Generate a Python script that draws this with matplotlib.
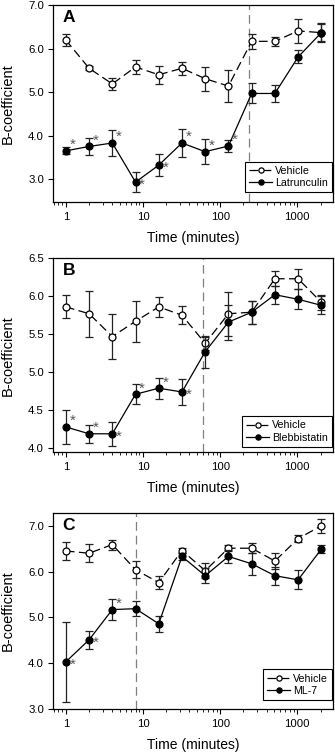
import matplotlib
matplotlib.use("Agg")
import matplotlib.pyplot as plt
from matplotlib.ticker import LogLocator, NullFormatter, FixedLocator, FormatStrFormatter

plt.rcParams['font.family'] = ['Liberation Sans', 'DejaVu Sans']

# time points (minutes)
TIMES = [1, 2, 4, 8, 16, 32, 64, 128, 256, 512, 1024, 2048]

# panel A - latrunculin
A_VEH = [6.20, 5.55, 5.19, 5.58, 5.40, 5.55, 5.31, 5.14, 6.17, 6.17, 6.41, 6.37]
A_VEH_ERR = [0.13, 0.05, 0.13, 0.17, 0.21, 0.15, 0.28, 0.36, 0.17, 0.11, 0.28, 0.20]
A_DRUG = [3.65, 3.75, 3.83, 2.93, 3.32, 3.83, 3.63, 3.76, 4.97, 4.97, 5.81, 6.37]
A_DRUG_ERR = [0.08, 0.19, 0.29, 0.23, 0.26, 0.33, 0.29, 0.14, 0.23, 0.19, 0.15, 0.22]
A_SIG = [1, 1, 1, 1, 1, 1, 1, 1, 0, 0, 0, 0]

# panel B - blebbistatin
B_VEH = [5.86, 5.77, 5.47, 5.67, 5.86, 5.75, 5.38, 5.77, 5.79, 6.23, 6.23, 5.92]
B_VEH_ERR = [0.15, 0.30, 0.30, 0.27, 0.13, 0.12, 0.09, 0.29, 0.15, 0.10, 0.13, 0.10]
B_DRUG = [4.28, 4.19, 4.19, 4.71, 4.79, 4.74, 5.27, 5.66, 5.79, 6.02, 5.96, 5.88]
B_DRUG_ERR = [0.22, 0.12, 0.16, 0.13, 0.14, 0.17, 0.21, 0.23, 0.15, 0.12, 0.13, 0.12]
B_SIG = [1, 1, 1, 1, 1, 1, 0, 0, 0, 0, 0, 0]

# panel C - ML-7
C_VEH = [6.45, 6.40, 6.59, 6.04, 5.76, 6.46, 6.02, 6.51, 6.51, 6.23, 6.72, 7.00]
C_VEH_ERR = [0.20, 0.20, 0.11, 0.18, 0.15, 0.05, 0.16, 0.07, 0.11, 0.17, 0.08, 0.15]
C_DRUG = [4.03, 4.51, 5.17, 5.19, 4.86, 6.33, 5.91, 6.33, 6.17, 5.91, 5.82, 6.49]
C_DRUG_ERR = [0.87, 0.20, 0.23, 0.17, 0.17, 0.08, 0.17, 0.15, 0.24, 0.20, 0.21, 0.09]
C_SIG = [1, 1, 1, 0, 0, 0, 0, 0, 0, 0, 0, 0]

PANELS = [
    dict(letter='A', drug='Latrunculin', veh=A_VEH, veh_err=A_VEH_ERR,
         drug_y=A_DRUG, drug_err=A_DRUG_ERR, sig=A_SIG, wash=240,
         ylim=(2.47, 7.0), yticks=[3.0, 4.0, 5.0, 6.0, 7.0],
         below={3, 4}, leg_y=0.05, rect=[0.158, 0.732, 0.836, 0.261]),
    dict(letter='B', drug='Blebbistatin', veh=B_VEH, veh_err=B_VEH_ERR,
         drug_y=B_DRUG, drug_err=B_DRUG_ERR, sig=B_SIG, wash=60,
         ylim=(3.95, 6.5), yticks=[4.0, 4.5, 5.0, 5.5, 6.0, 6.5],
         below={2, 5}, leg_y=0.027, rect=[0.158, 0.4005, 0.836, 0.257]),
    dict(letter='C', drug='ML-7', veh=C_VEH, veh_err=C_VEH_ERR,
         drug_y=C_DRUG, drug_err=C_DRUG_ERR, sig=C_SIG, wash=8,
         ylim=(3.0, 7.28), yticks=[3.0, 4.0, 5.0, 6.0, 7.0],
         below={0, 1}, leg_y=0.045, rect=[0.158, 0.0597, 0.836, 0.26]),
]

ERR_KW = dict(fmt='none', ecolor='#222222', elinewidth=0.9, capsize=2.8, capthick=0.9)

fig = plt.figure(figsize=(3.35, 7.54), dpi=100)

for p in PANELS:
    ax = fig.add_axes(p['rect'])
    ax.set_xscale('log')

    ax.axvline(p['wash'], color='#808080', lw=0.9, dashes=(7, 4), zorder=1)

    ax.errorbar(TIMES, p['veh'], yerr=p['veh_err'], zorder=2, **ERR_KW)
    ax.plot(TIMES, p['veh'], color='black', lw=0.9, dashes=(7, 3.5),
            marker='o', ms=5.0, mfc='white', mec='black', mew=0.9,
            zorder=3, label='Vehicle')
    ax.errorbar(TIMES, p['drug_y'], yerr=p['drug_err'], zorder=4, **ERR_KW)
    ax.plot(TIMES, p['drug_y'], color='black', lw=0.9, ls='-',
            marker='o', ms=5.0, mfc='black', mec='black', mew=0.9,
            zorder=5, label=p['drug'])

    # significance markers beside the treated points
    for i, (t, y, s) in enumerate(zip(TIMES, p['drug_y'], p['sig'])):
        if s:
            dy = -4.8 if i in p['below'] else 1.3
            ax.annotate('*', (t, y), xytext=(4.8, dy), textcoords='offset points',
                        fontsize=11, color='#555555', ha='center', va='baseline',
                        zorder=6)

    ax.set_xlim(0.68, 2900)
    ax.set_ylim(*p['ylim'])
    ax.xaxis.set_major_locator(FixedLocator([1, 10, 100, 1000]))
    ax.xaxis.set_major_formatter(FormatStrFormatter('%g'))
    ax.xaxis.set_minor_locator(LogLocator(base=10, subs=range(2, 10), numticks=20))
    ax.xaxis.set_minor_formatter(NullFormatter())
    ax.yaxis.set_major_locator(FixedLocator(p['yticks']))
    ax.yaxis.set_major_formatter(FormatStrFormatter('%.1f'))

    ax.tick_params(axis='both', which='major', direction='out', length=3.5,
                   width=0.8, labelsize=8.2)
    ax.tick_params(axis='x', which='major', pad=4)
    ax.tick_params(axis='y', which='major', pad=3)
    ax.tick_params(axis='x', which='minor', direction='out', length=2, width=0.6)
    for sp in ax.spines.values():
        sp.set_linewidth(0.9)

    ax.set_xlabel('Time (minutes)', fontsize=10, labelpad=6)
    ax.set_ylabel('B-coefficient', fontsize=10.5, labelpad=9.5)

    ax.text(0.035, 0.975, p['letter'], transform=ax.transAxes, fontsize=12.5,
            fontweight='bold', ha='left', va='top')

    leg = ax.legend(loc='lower right', bbox_to_anchor=(0.997, p['leg_y']),
                    borderaxespad=0, fontsize=7.7, frameon=True, fancybox=False,
                    edgecolor='black', borderpad=0.4, handlelength=2.1,
                    handletextpad=0.3, labelspacing=0.2,
                    markerscale=0.75, framealpha=1)
    leg.get_frame().set_linewidth(0.8)

fig.savefig('out.png', dpi=100)
